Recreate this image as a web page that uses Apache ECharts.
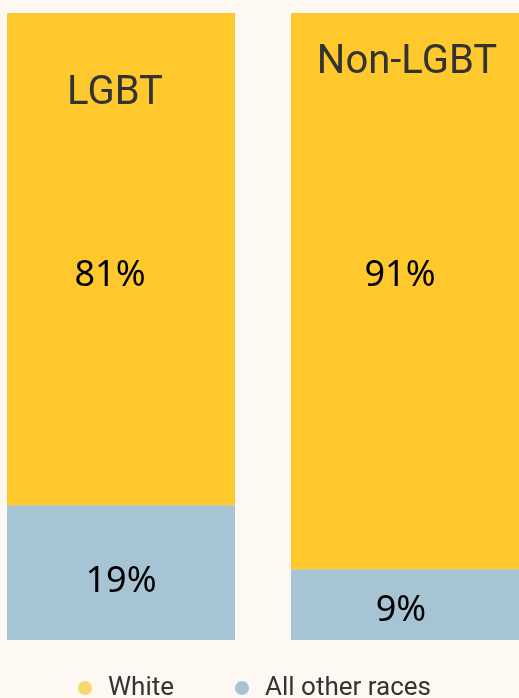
<!DOCTYPE html>
<html>
<head>
<meta charset="utf-8">
<script src="https://cdn.jsdelivr.net/npm/echarts@6/dist/echarts.min.js"></script>
<style>
  html, body { margin: 0; padding: 0; background: #fdf8f2; }
  #main { width: 519px; height: 698px; }
</style>
</head>
<body>
<div id="main"></div>
<script>
  var groups = ['LGBT', 'Non-LGBT'];
  var seriesNames = ['White', 'All other races'];
  // bar shares as drawn in the picture
  var whiteVals = [78.5, 88.7];
  var otherVals = [21.5, 11.3];
  // printed labels
  var whiteText = ['81%', '91%'];
  var otherText = ['19%', '9%'];

  var chart = echarts.init(document.getElementById('main'));

  // name + percent label layout for the top segment
  var nameTop = [61, 30];
  var nameGap = [142, 173];
  var namePad = [[0, 12, 0, 0], [0, 0, 0, 4]];
  var pctPad = [[0, 22, 0, 0], [0, 10, 0, 0]];
  var otherOffset = [[0, 9], [-4, 6]];

  var whiteData = whiteVals.map(function (v, i) {
    return {
      value: v,
      label: {
        show: true,
        position: [114, nameTop[i]],
        align: 'center',
        verticalAlign: 'top',
        formatter: '{n|' + groups[i] + '}\n{s|}\n{p|' + whiteText[i] + '}',
        rich: {
          n: { fontFamily: 'Roboto', fontSize: 40, color: '#333', lineHeight: 40, align: 'center', padding: namePad[i] },
          s: { lineHeight: nameGap[i], fontSize: 10 },
          p: { fontFamily: 'Noto Sans', fontSize: 36, color: '#000', lineHeight: 40, align: 'center', padding: pctPad[i] }
        }
      }
    };
  });

  var otherData = otherVals.map(function (v, i) {
    return {
      value: v,
      label: {
        show: true,
        position: 'inside',
        offset: otherOffset[i],
        formatter: otherText[i],
        fontFamily: 'Noto Sans',
        fontSize: 36,
        color: '#000'
      }
    };
  });

  var option = {
    backgroundColor: '#fdf8f2',
    animation: false,
    grid: { left: -21, top: 13, width: 568, bottom: 58, outerBoundsMode: 'none', containLabel: false },
    legend: {
      left: 73,
      top: 670,
      itemWidth: 36,
      itemHeight: 14,
      itemGap: 61,
      icon: 'circle',
      textStyle: { fontFamily: 'Roboto', fontSize: 26, color: '#333' },
      data: [
        { name: seriesNames[0], itemStyle: { color: '#f6d870' } },
        { name: seriesNames[1], itemStyle: { color: '#a7c4d5' } }
      ]
    },
    xAxis: {
      type: 'category',
      data: groups,
      show: false
    },
    yAxis: {
      type: 'value',
      min: 0,
      max: 100,
      show: false
    },
    series: [
      {
        name: seriesNames[1],
        type: 'bar',
        stack: 'total',
        barWidth: 228,
        itemStyle: { color: '#a7c4d5' },
        data: otherData
      },
      {
        name: seriesNames[0],
        type: 'bar',
        stack: 'total',
        barWidth: 228,
        itemStyle: { color: '#ffc82c' },
        data: whiteData
      }
    ]
  };
  chart.setOption(option);
</script>
</body>
</html>
